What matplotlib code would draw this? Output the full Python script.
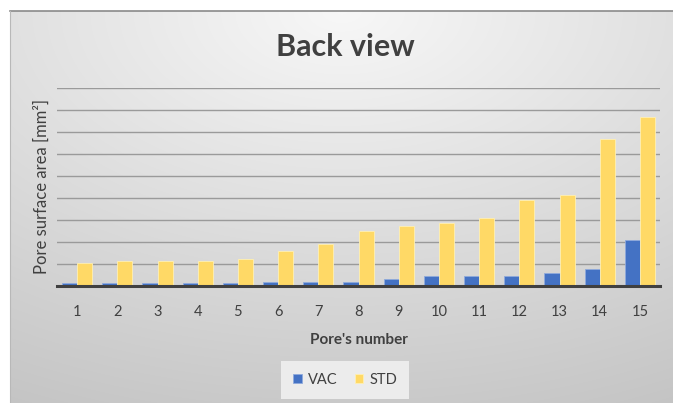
import numpy as np
import matplotlib
matplotlib.use("Agg")
import matplotlib.pyplot as plt

categories = [str(i) for i in range(1, 16)]
vac = [0.12, 0.12, 0.12, 0.12, 0.12, 0.2, 0.2, 0.2, 0.3, 0.45, 0.45, 0.45, 0.6, 0.77, 2.1]
std = [1.05, 1.15, 1.15, 1.15, 1.25, 1.6, 1.9, 2.5, 2.75, 2.85, 3.1, 3.9, 4.15, 6.7, 7.7]

plt.rcParams['font.family'] = ['Lato', 'DejaVu Sans']

W, H = 673, 403
fig = plt.figure(figsize=(W / 100, H / 100), dpi=100)
fig.patch.set_facecolor('white')

# background gradient
bg = fig.add_axes([0, 0, 1, 1], zorder=-10)
yy, xx = np.mgrid[0:H, 0:W]
cx, cy = W * 0.5, H * 0.0
r = np.sqrt(((xx - cx) / W) ** 2 + ((yy - cy) / H) ** 2)
r = r / r.max()
val = 0.97 - 0.20 * r
img = np.dstack([val, val, val])
bg.imshow(img, aspect='auto', extent=[10, W, H, 11])
bg.set_xlim(0, W)
bg.set_ylim(H, 0)
bg.axis('off')
bg.plot([10, W], [11, 11], color='#8a8a8a', lw=1.2)
bg.plot([10, 10], [11, H], color='#b8b8b8', lw=0.8)

ax = fig.add_axes([57 / W, 1 - 286 / H, 603 / W, 198 / H])
ax.patch.set_alpha(0)
x = np.arange(len(categories))
w = 0.375
ax.bar(x - w / 2, vac, w, color='#4472C4', edgecolor='#8faadc', linewidth=0.6, label='VAC', zorder=3)
ax.bar(x + w / 2, std, w, color='#FFD966', edgecolor='#fff0b3', linewidth=0.6, label='STD', zorder=3)

ax.set_xlim(-0.5, len(categories) - 0.5)
ax.set_ylim(0, 9)
ax.set_yticks(np.arange(1, 10))
ax.yaxis.grid(True, color='#9a9a9a', linewidth=1.0, zorder=0)
ax.tick_params(axis='y', left=False, labelleft=False)
ax.set_xticks(x)
ax.set_xticklabels(categories, fontsize=10.5, color='#404040')
ax.tick_params(axis='x', length=0, pad=14)
for s in ['top', 'right', 'left']:
    ax.spines[s].set_visible(False)
ax.spines['bottom'].set_color('#404040')
ax.spines['bottom'].set_linewidth(2.2)
ax.spines['bottom'].set_zorder(4)

ax.set_xlabel("Pore's number", fontsize=11, fontweight='bold', color='#404040', labelpad=10)
ax.set_ylabel("Pore surface area [mm²]", fontsize=12, color='#404040', labelpad=5)

fig.text(345 / W, 1 - 47 / H, 'Back view', fontsize=22, fontweight='bold',
         color='#404040', ha='center', va='center')

leg = fig.legend(loc='center', bbox_to_anchor=(345 / W, 1 - 380 / H), ncol=2, frameon=True,
                 fontsize=10.5, handlelength=0.6, handleheight=0.6, handletextpad=0.4,
                 columnspacing=1.2, fancybox=False, borderpad=0.8)
leg.get_frame().set_facecolor('#ececec')
leg.get_frame().set_edgecolor('none')
leg.get_frame().set_alpha(1)
for t in leg.get_texts():
    t.set_color('#404040')

fig.savefig('out.png', dpi=100)
